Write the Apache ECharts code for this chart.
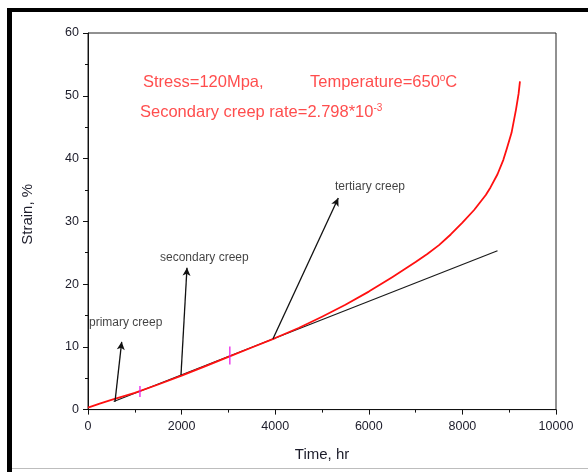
<!DOCTYPE html>
<html>
<head>
<meta charset="utf-8">
<script src="https://cdn.jsdelivr.net/npm/echarts@6/dist/echarts.min.js"></script>
<style>
  html, body { margin: 0; padding: 0; background: #fff; }
  #chart { width: 588px; height: 472px; }
</style>
</head>
<body>
<div id="chart"></div>
<script>
// Creep curve: time (hr) vs strain (%)
const creepTime   = [0, 250, 500, 1000, 1500, 2000, 2500, 3000, 3500, 4000, 4500, 5000, 5500, 6000, 6500, 7000, 7250, 7500, 7750, 8000, 8250, 8500, 8600, 8750, 8875, 8950, 9050, 9145, 9200, 9230];
const creepStrain = [0.3, 0.95, 1.55, 2.65, 4.0, 5.4, 6.9, 8.4, 9.9, 11.4, 13.0, 14.8, 16.7, 18.8, 21.1, 23.5, 24.8, 26.2, 27.9, 29.8, 31.8, 34.2, 35.4, 37.5, 39.8, 41.6, 44.1, 47.8, 50.3, 52.3];

// Secondary-creep fit line
const fitTime   = [550, 8750];
const fitStrain = [1.3, 25.3];

// Stage boundary marks on the curve
const stageTime   = [1110, 3030];
const stageStrain = [2.9, 8.6];

// Annotation arrows (tail -> head) and their labels
const arrowTail  = [[577, 1.26], [1987, 5.5], [3953, 11.3]];
const arrowHead  = [[720, 10.8], [2115, 22.6], [5348, 33.7]];
const noteText   = ['primary creep', 'secondary creep', 'tertiary creep'];
const noteAt     = [[21, 13.9], [1538, 24.2], [5278, 35.5]];

// Test conditions
const condText = ['Stress=120Mpa,', 'Temperature=650', 'Secondary creep rate=2.798*10'];
const condSup  = ['', 'o', '-3'];
const condTail = ['', 'C', ''];
const condAt   = [[1175, 52.2], [4744, 52.2], [1111, 47.4]];

// Axis ticks
const xTicks = [0, 2000, 4000, 6000, 8000, 10000];
const yTicks = [0, 10, 20, 30, 40, 50, 60];

const FONT = "'Liberation Sans', Arial, sans-serif";
const chart = echarts.init(document.getElementById('chart'), null, { renderer: 'canvas' });

const zip = (a, b) => a.map((v, i) => [v, b[i]]);

chart.setOption({
  animation: false,
  backgroundColor: '#ffffff',
  textStyle: { fontFamily: FONT },
  graphic: [
    { type: 'rect', left: 7, top: 8, shape: { width: 581, height: 4 }, style: { fill: '#000' }, silent: true },
    { type: 'rect', left: 7, top: 8, shape: { width: 5, height: 464 }, style: { fill: '#000' }, silent: true },
    { type: 'rect', left: 12, top: 468, shape: { width: 576, height: 1 }, style: { fill: '#bdbdbd' }, silent: true }
  ],
  grid: {
    left: 88, top: 33, right: 32, bottom: 62.4,
    show: true, borderColor: '#222', borderWidth: 1, backgroundColor: 'transparent'
  },
  xAxis: {
    type: 'value',
    min: xTicks[0], max: xTicks[xTicks.length - 1], interval: xTicks[1] - xTicks[0],
    name: 'Time, hr', nameLocation: 'middle', nameGap: 38,
    nameTextStyle: { fontSize: 15, color: '#1c1c2a', fontFamily: FONT },
    axisLine: { lineStyle: { color: '#111', width: 1 } },
    axisTick: { inside: false, length: 5, lineStyle: { color: '#111' } },
    minorTick: { show: true, splitNumber: 2, length: 3, lineStyle: { color: '#111' } },
    axisLabel: { fontSize: 12.5, color: '#1c1c2a', margin: 10, fontFamily: FONT, formatter: v => String(v) },
    splitLine: { show: false }
  },
  yAxis: {
    type: 'value',
    min: yTicks[0], max: yTicks[yTicks.length - 1], interval: yTicks[1] - yTicks[0],
    name: 'Strain, %', nameLocation: 'middle', nameGap: 53, nameRotate: 90,
    nameTextStyle: { fontSize: 15, color: '#1c1c2a', fontFamily: FONT, padding: [0, 0, 0, 14] },
    axisLine: { lineStyle: { color: '#111', width: 1 } },
    axisTick: { inside: false, length: 5, lineStyle: { color: '#111' } },
    minorTick: { show: true, splitNumber: 2, length: 3, lineStyle: { color: '#111' } },
    axisLabel: { fontSize: 12.5, color: '#1c1c2a', margin: 9, fontFamily: FONT, formatter: v => String(v) },
    splitLine: { show: false }
  },
  series: [
    {
      name: 'fit',
      type: 'line',
      data: zip(fitTime, fitStrain),
      showSymbol: false,
      lineStyle: { color: '#1a1a1a', width: 1.2 },
      z: 2,
      markLine: {
        silent: true,
        symbol: ['none', 'arrow'],
        symbolSize: [6, 8],
        label: { show: false },
        lineStyle: { color: '#111', width: 1.3, type: 'solid' },
        data: arrowTail.map((t, i) => [{ coord: t }, { coord: arrowHead[i] }])
      }
    },
    {
      name: 'creep',
      type: 'line',
      data: zip(creepTime, creepStrain),
      showSymbol: false,
      smooth: false,
      lineStyle: { color: '#ff1010', width: 1.8, join: 'round' },
      z: 3
    },
    {
      name: 'stage marks',
      type: 'scatter',
      data: zip(stageTime, stageStrain),
      symbol: 'rect',
      symbolSize: (v, p) => [1.6, p.dataIndex === 0 ? 11 : 18],
      itemStyle: { color: '#e81ee8' },
      z: 4
    },
    {
      name: 'notes',
      type: 'scatter',
      data: noteAt.map((p, i) => ({ value: p, name: noteText[i] })),
      symbolSize: 0,
      label: {
        show: true, position: 'right', distance: 0,
        formatter: p => p.name,
        fontSize: 12, color: '#111', fontFamily: FONT
      },
      z: 5
    },
    {
      name: 'conditions',
      type: 'scatter',
      data: condAt.map((p, i) => ({ value: p, name: String(i) })),
      symbolSize: 0,
      label: {
        show: true, position: 'right', distance: 0,
        formatter: p => {
          const i = +p.name;
          let s = '{a|' + condText[i] + '}';
          if (condSup[i]) s += '{s|' + condSup[i] + '}';
          if (condTail[i]) s += '{a|' + condTail[i] + '}';
          return s;
        },
        rich: {
          a: { fontSize: 16.5, color: '#ff2020', fontFamily: FONT, lineHeight: 18 },
          s: { fontSize: 10, color: '#ff2020', fontFamily: FONT, verticalAlign: 'top', lineHeight: 10 }
        }
      },
      z: 5
    }
  ]
});
</script>
</body>
</html>
